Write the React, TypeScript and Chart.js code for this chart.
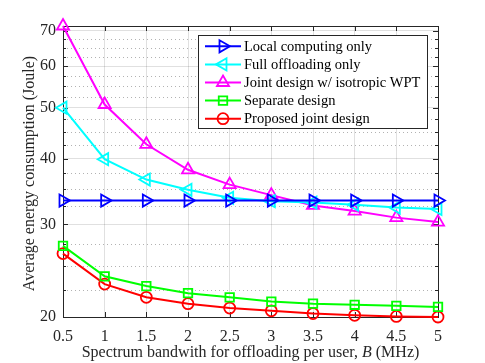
import React, { useEffect, useRef } from 'react';
import { Chart, registerables } from 'chart.js';

Chart.register(...registerables);

const bandwidth = [0.5, 1, 1.5, 2, 2.5, 3, 3.5, 4, 4.5, 5];
const localComputing = [33.3, 33.3, 33.3, 33.3, 33.3, 33.3, 33.3, 33.3, 33.3, 33.3];
const fullOffloading = [50.0, 39.9, 36.5, 34.9, 33.7, 33.2, 33.0, 32.7, 32.3, 32.1];
const jointIsotropic = [71.5, 50.7, 42.6, 38.1, 35.7, 34.1, 32.6, 31.8, 30.9, 30.3];
const separateDesign = [27.3, 23.9, 22.9, 22.2, 21.8, 21.4, 21.2, 21.1, 21.0, 20.9];
const proposedJoint = [26.4, 23.1, 21.8, 21.2, 20.8, 20.55, 20.3, 20.15, 20.05, 20.0];

const seriesLabels = [
  'Local computing only',
  'Full offloading only',
  'Joint design w/ isotropic WPT',
  'Separate design',
  'Proposed joint design',
];
const seriesColors = ['#0000FF', '#00FFFF', '#FF00FF', '#00FF00', '#FF0000'];

const xTicks = [0.5, 1, 1.5, 2, 2.5, 3, 3.5, 4, 4.5, 5];
const yMajorTicks = [20, 30, 40, 50, 60, 70];
const yMinorTicks = [22.5, 25, 27.5, 32.5, 35, 37.5, 42.5, 45, 47.5, 52.5, 55, 57.5, 62.5, 65, 67.5];
const yMin = 20;
const yMax = 71.5;

const xTitleParts = ['Spectrum bandwith for offloading per user, ', 'B', ' (MHz)'];
const yTitle = 'Average energy consumption (Joule)';

const FONT = '"Liberation Serif", "Times New Roman", serif';
const AXIS_COLOR = '#262626';

type Marker = { style: string; rotation: number; radius: number };
const markers: Marker[] = [
  { style: 'triangle', rotation: 90, radius: 7 },
  { style: 'triangle', rotation: -90, radius: 7 },
  { style: 'triangle', rotation: 0, radius: 7 },
  { style: 'rect', rotation: 0, radius: 6 },
  { style: 'circle', rotation: 0, radius: 5.5 },
];

function drawMarker(ctx: CanvasRenderingContext2D, m: Marker, x: number, y: number) {
  ctx.beginPath();
  if (m.style === 'triangle') {
    let a = (m.rotation * Math.PI) / 180;
    ctx.moveTo(x + Math.sin(a) * m.radius, y - Math.cos(a) * m.radius);
    for (let i = 0; i < 2; i++) {
      a += (2 * Math.PI) / 3;
      ctx.lineTo(x + Math.sin(a) * m.radius, y - Math.cos(a) * m.radius);
    }
    ctx.closePath();
  } else if (m.style === 'rect') {
    const s = m.radius * Math.SQRT1_2;
    ctx.rect(x - s, y - s, 2 * s, 2 * s);
  } else {
    ctx.arc(x, y, m.radius, 0, Math.PI * 2);
  }
  ctx.stroke();
}

const framePlugin = {
  id: 'matlabFrame',
  beforeDatasetsDraw(chart: any) {
    const { ctx, chartArea } = chart;
    const { left, right, top, bottom } = chartArea;
    const ys = chart.scales.y;
    const xs = chart.scales.x;
    ctx.save();
    // minor dotted grid
    ctx.strokeStyle = 'rgba(0,0,0,0.3)';
    ctx.lineWidth = 1;
    ctx.setLineDash([1, 3]);
    yMinorTicks.forEach((v) => {
      const py = Math.round(ys.getPixelForValue(v)) + 0.5;
      ctx.beginPath();
      ctx.moveTo(left, py);
      ctx.lineTo(right, py);
      ctx.stroke();
    });
    ctx.setLineDash([]);
    // box
    ctx.strokeStyle = AXIS_COLOR;
    ctx.lineWidth = 1;
    ctx.strokeRect(Math.round(left) + 0.5, Math.round(top) + 0.5, Math.round(right - left), Math.round(bottom - top));
    // ticks
    ctx.beginPath();
    xTicks.forEach((v) => {
      const px = Math.round(xs.getPixelForValue(v)) + 0.5;
      ctx.moveTo(px, bottom);
      ctx.lineTo(px, bottom - 5);
      ctx.moveTo(px, top);
      ctx.lineTo(px, top + 5);
    });
    yMajorTicks.forEach((v) => {
      const py = Math.round(ys.getPixelForValue(v)) + 0.5;
      ctx.moveTo(left, py);
      ctx.lineTo(left + 5, py);
      ctx.moveTo(right, py);
      ctx.lineTo(right - 5, py);
    });
    yMinorTicks.forEach((v) => {
      const py = Math.round(ys.getPixelForValue(v)) + 0.5;
      ctx.moveTo(left, py);
      ctx.lineTo(left + 3, py);
      ctx.moveTo(right, py);
      ctx.lineTo(right - 3, py);
    });
    ctx.stroke();
    ctx.restore();
  },
  afterDraw(chart: any) {
    const { ctx, chartArea } = chart;
    ctx.save();
    // axis titles
    ctx.fillStyle = AXIS_COLOR;
    ctx.textBaseline = 'middle';
    const cx = (chartArea.left + chartArea.right) / 2;
    ctx.font = `16px ${FONT}`;
    const w0 = ctx.measureText(xTitleParts[0]).width;
    ctx.font = `italic 16px ${FONT}`;
    const w1 = ctx.measureText(xTitleParts[1]).width;
    ctx.font = `16px ${FONT}`;
    const w2 = ctx.measureText(xTitleParts[2]).width;
    const x0 = cx - (w0 + w1 + w2) / 2;
    const ty = 353;
    ctx.textAlign = 'left';
    ctx.fillText(xTitleParts[0], x0, ty);
    ctx.font = `italic 16px ${FONT}`;
    ctx.fillText(xTitleParts[1], x0 + w0, ty);
    ctx.font = `16px ${FONT}`;
    ctx.fillText(xTitleParts[2], x0 + w0 + w1, ty);

    ctx.save();
    ctx.translate(30, (chartArea.top + chartArea.bottom) / 2 + 2);
    ctx.rotate(-Math.PI / 2);
    ctx.textAlign = 'center';
    ctx.fillText(yTitle, 0, 0);
    ctx.restore();

    // legend
    const bx = 198.5, by = 35.5, bw = 229, bh = 93;
    ctx.fillStyle = '#ffffff';
    ctx.fillRect(bx, by, bw, bh);
    ctx.strokeStyle = AXIS_COLOR;
    ctx.lineWidth = 1;
    ctx.strokeRect(bx, by, bw, bh);
    ctx.font = `14.5px ${FONT}`;
    ctx.textAlign = 'left';
    ctx.textBaseline = 'middle';
    seriesLabels.forEach((lab, i) => {
      const ry = 46.3 + i * 18.1;
      ctx.strokeStyle = seriesColors[i];
      ctx.lineWidth = 2;
      ctx.beginPath();
      ctx.moveTo(205, ry);
      ctx.lineTo(241, ry);
      ctx.stroke();
      ctx.lineWidth = 1.8;
      drawMarker(ctx, markers[i], 223, ry);
      ctx.fillStyle = '#000000';
      ctx.fillText(lab, 244, ry + 0.5);
    });
    ctx.restore();
  },
};

export default function App() {
  const ref = useRef<HTMLCanvasElement | null>(null);
  useEffect(() => {
    document.body.style.margin = '0';
    const seriesData = [localComputing, fullOffloading, jointIsotropic, separateDesign, proposedJoint];
    const chart = new Chart(ref.current as HTMLCanvasElement, {
      type: 'line',
      data: {
        datasets: seriesData.map((vals, i) => ({
          label: seriesLabels[i],
          data: bandwidth.map((b, k) => ({ x: b, y: vals[k] })),
          borderColor: seriesColors[i],
          backgroundColor: 'rgba(0,0,0,0)',
          pointBackgroundColor: 'rgba(0,0,0,0)',
          pointBorderColor: seriesColors[i],
          pointStyle: markers[i].style as any,
          pointRotation: markers[i].rotation,
          pointRadius: markers[i].radius,
          pointBorderWidth: 1.8,
          borderWidth: 2,
          tension: 0,
          clip: false as any,
        })),
      },
      options: {
        animation: false,
        responsive: false,
        devicePixelRatio: 1,
        layout: { padding: { left: 0, top: 26, right: 47, bottom: 0 } },
        plugins: { legend: { display: false }, tooltip: { enabled: false } },
        scales: {
          x: {
            type: 'linear',
            min: 0.5,
            max: 5,
            afterBuildTicks: (axis: any) => {
              axis.ticks = xTicks.map((v) => ({ value: v }));
            },
            afterFit: (axis: any) => {
              axis.height = 46;
            },
            grid: { color: 'rgba(0,0,0,0.12)', lineWidth: 1, drawTicks: false },
            border: { display: false },
            ticks: {
              padding: 10,
              color: AXIS_COLOR,
              font: { family: FONT, size: 16 },
              maxRotation: 0,
              autoSkip: false,
              callback: (v: any) => String(v),
            },
          },
          y: {
            type: 'logarithmic',
            min: yMin,
            max: yMax,
            afterBuildTicks: (axis: any) => {
              axis.ticks = yMajorTicks.map((v) => ({ value: v }));
            },
            afterFit: (axis: any) => {
              axis.width = 63;
            },
            grid: { color: 'rgba(0,0,0,0.12)', lineWidth: 1, drawTicks: false },
            border: { display: false },
            ticks: {
              padding: 7,
              color: AXIS_COLOR,
              font: { family: FONT, size: 16 },
              autoSkip: false,
              callback: (v: any) => String(v),
            },
          },
        },
      },
      plugins: [framePlugin],
    });
    return () => chart.destroy();
  }, []);
  return (
    <div style={{ position: 'fixed', left: 0, top: 0, width: 485, height: 363, background: '#fff' }}>
      <canvas ref={ref} width={485} height={363} style={{ display: 'block' }} />
    </div>
  );
}
